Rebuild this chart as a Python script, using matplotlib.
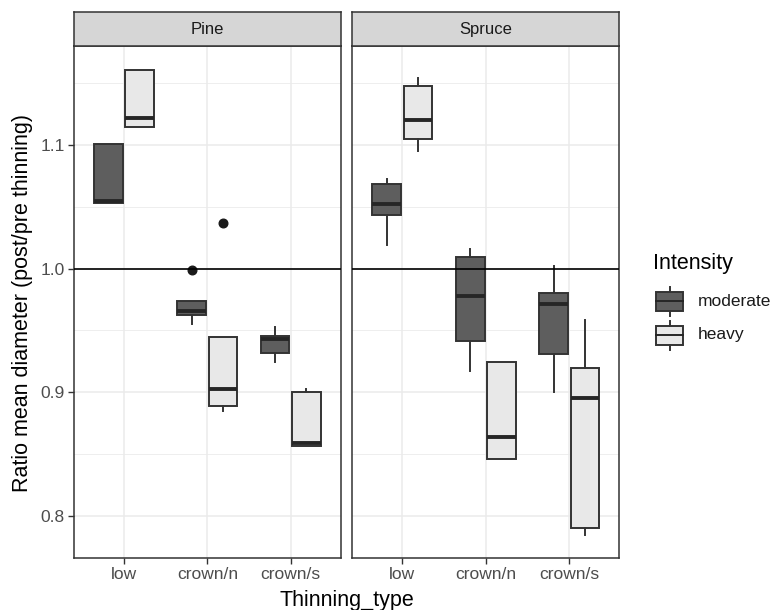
import matplotlib

matplotlib.use("Agg")
import matplotlib.pyplot as plt
from matplotlib.lines import Line2D
from matplotlib.patches import Rectangle

plt.rcParams["font.family"] = ["Liberation Sans", "DejaVu Sans"]

SPECIES = ["Pine", "Spruce"]
THINNING = ["low", "crown/n", "crown/s"]
INTENSITY = ["moderate", "heavy"]
Y_TICKS = [0.8, 0.9, 1.0, 1.1]
Y_MINOR = [0.85, 0.95, 1.05, 1.15]
REF_LINE = 1.0

# (whislo, q1, med, q3, whishi) per thinning type
PINE_MODERATE = [
    (1.053, 1.053, 1.055, 1.101, 1.101),
    (0.9555, 0.9625, 0.9655, 0.974, 0.974),
    (0.9248, 0.9318, 0.943, 0.9455, 0.9528),
]
PINE_HEAVY = [
    (1.1145, 1.1145, 1.1217, 1.161, 1.161),
    (0.8846, 0.889, 0.9024, 0.945, 0.945),
    (0.8563, 0.8563, 0.859, 0.9003, 0.9027),
]
SPRUCE_MODERATE = [
    (1.0188, 1.0433, 1.0525, 1.0684, 1.0728),
    (0.9175, 0.9415, 0.9782, 1.0091, 1.0162),
    (0.9003, 0.931, 0.9711, 0.9806, 1.002),
]
SPRUCE_HEAVY = [
    (1.0948, 1.105, 1.1205, 1.148, 1.1544),
    (0.846, 0.846, 0.8642, 0.9243, 0.9243),
    (0.7844, 0.7906, 0.8957, 0.92, 0.9588),
]
# outliers per thinning type
PINE_MODERATE_OUT = [[], [0.999], []]
PINE_HEAVY_OUT = [[], [1.037], []]
SPRUCE_MODERATE_OUT = [[], [], []]
SPRUCE_HEAVY_OUT = [[], [], []]

DATA = {
    "Pine": [(PINE_MODERATE, PINE_MODERATE_OUT), (PINE_HEAVY, PINE_HEAVY_OUT)],
    "Spruce": [(SPRUCE_MODERATE, SPRUCE_MODERATE_OUT), (SPRUCE_HEAVY, SPRUCE_HEAVY_OUT)],
}

FILLS = ["#5e5e5e", "#e8e8e8"]
EDGE = "#333333"
GRID = "#ebebeb"
TICK_TXT = "#4d4d4d"
DODGE = 0.1875
BOX_W = 0.344

W, H = 772, 610
fig = plt.figure(figsize=(W / 100, H / 100), dpi=100)

panels = [(74, 340.7), (352.3, 619.3)]
p_top, p_bot, s_top = 46, 557.7, 12.3


def fx(px):
    return px / W


def fy(py):
    return 1 - py / H


for k, (sp, (x0, x1)) in enumerate(zip(SPECIES, panels)):
    ax = fig.add_axes([fx(x0), fy(p_bot), fx(x1 - x0), fy(p_top) - fy(p_bot)])
    ax.set_xlim(0.4, 3.6)
    ax.set_ylim(0.7663, 1.180)
    for y in Y_MINOR:
        ax.axhline(y, color=GRID, lw=0.6, zorder=0)
    for y in Y_TICKS:
        ax.axhline(y, color=GRID, lw=1.1, zorder=0)
    for x in range(1, len(THINNING) + 1):
        ax.axvline(x, color=GRID, lw=1.1, zorder=0)

    for j, (series, outs) in enumerate(DATA[sp]):
        stats = []
        for (lo, q1, med, q3, hi), fl in zip(series, outs):
            stats.append(dict(whislo=lo, q1=q1, med=med, q3=q3, whishi=hi, fliers=fl))
        pos = [i + 1 + (j - 0.5) * 2 * DODGE for i in range(len(THINNING))]
        ax.bxp(stats, positions=pos, widths=BOX_W, patch_artist=True,
               showcaps=False, manage_ticks=False,
               boxprops=dict(facecolor=FILLS[j], edgecolor=EDGE, linewidth=1.4),
               medianprops=dict(color="#262626", linewidth=2.8, solid_capstyle="butt"),
               whiskerprops=dict(color=EDGE, linewidth=1.4),
               flierprops=dict(marker="o", markerfacecolor="#1a1a1a",
                               markeredgecolor="#1a1a1a", markersize=6.2))

    ax.axhline(REF_LINE, color="black", lw=1.2, zorder=10)

    ax.set_xticks(range(1, len(THINNING) + 1))
    ax.set_xticklabels(THINNING)
    ax.set_yticks(Y_TICKS)
    ax.set_yticklabels([f"{v:.1f}" for v in Y_TICKS])
    ax.tick_params(axis="both", length=4, width=1, color=EDGE, labelcolor=TICK_TXT,
                   labelsize=12.5, pad=2.5)
    if k > 0:
        ax.tick_params(axis="y", left=False, labelleft=False)
    for s in ax.spines.values():
        s.set_color(EDGE)
        s.set_linewidth(1.1)

    strip = fig.add_axes([fx(x0), fy(p_top), fx(x1 - x0), fy(s_top) - fy(p_top)])
    strip.set_facecolor("#d6d6d6")
    strip.set_xticks([])
    strip.set_yticks([])
    for s in strip.spines.values():
        s.set_color(EDGE)
        s.set_linewidth(1.1)
    strip.text(0.5, 0.5, sp, ha="center", va="center", fontsize=12, color="#1a1a1a",
               transform=strip.transAxes)

fig.text(fx(346.5), fy(606), "Thinning_type", ha="center", va="baseline", fontsize=15.5)
fig.text(fx(23), fy(302.5), "Ratio mean diameter (post/pre thinning)", ha="center",
         va="center", rotation=90, fontsize=15.5)

# legend, drawn in pixel space
lg = fig.add_axes([0, 0, 1, 1], zorder=5)
lg.set_xlim(0, W)
lg.set_ylim(H, 0)
lg.axis("off")
lg.text(652.7, 269.5, "Intensity", fontsize=15.5, va="baseline", ha="left")
for j, lab in enumerate(INTENSITY):
    cy = 301 + j * 34
    lg.add_patch(Rectangle((655.7, cy - 9.5), 27.6, 19, facecolor=FILLS[j],
                           edgecolor=EDGE, linewidth=1.4))
    lg.add_line(Line2D([655.7, 683.3], [cy, cy], color="#262626", lw=1.4))
    lg.add_line(Line2D([669.5, 669.5], [cy - 14.5, cy - 9.5], color=EDGE, lw=1.4))
    lg.add_line(Line2D([669.5, 669.5], [cy + 9.5, cy + 14.5], color=EDGE, lw=1.4))
    lg.text(698, cy, lab, fontsize=12.5, va="center", ha="left", color="#1a1a1a")

fig.savefig("out.png", dpi=100)
